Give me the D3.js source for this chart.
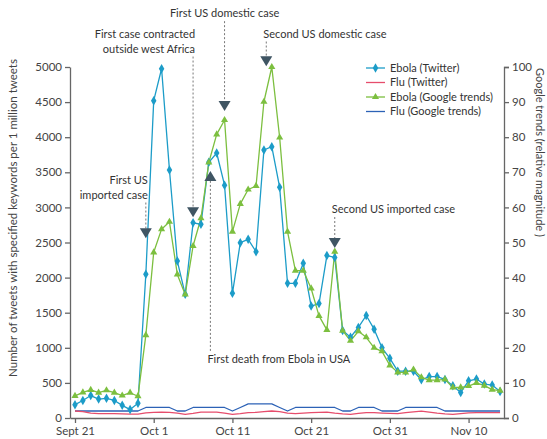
<!DOCTYPE html>
<html>
<head>
<meta charset="utf-8">
<script src="https://cdn.jsdelivr.net/npm/d3@7"></script>
<style>
  body { margin: 0; background: #fff; }
  svg { display: block; font-family: Lato, sans-serif; }
</style>
</head>
<body>
<svg id="chart" width="547" height="439"></svg>
<script>
// one value per day, day 0 = Sept 21 2014
const ebolaTwitter = [190, 250, 320, 270, 280, 250, 180, 120, 210, 2047,
  4520, 4975, 3533, 2236, 1762, 2780, 2760, 3642, 3775, 3316,
  1776, 2498, 2545, 2369, 3818, 3865, 3286, 1918, 1918, 2203,
  1595, 1630, 2314, 2287, 1245, 1150, 1290, 1460, 1265, 1000,
  850, 667, 667, 665, 545, 590, 590, 550, 460, 364,
  530, 555, 483, 469, 378]
const fluTwitter = [100, 90, 70, 62, 62, 62, 60, 55, 54, 72,
  80, 85, 80, 68, 52, 65, 85, 85, 85, 70,
  52, 62, 76, 80, 90, 100, 90, 70, 62, 70,
  76, 80, 85, 68, 58, 52, 65, 76, 76, 70,
  66, 62, 78, 88, 98, 85, 68, 58, 52, 62,
  72, 76, 76, 76, 76]
const ebolaGoogle = [6.3, 7.3, 8, 7.2, 7.9, 7.2, 6.4, 7.2, 6.2, 23.6,
  47.2, 53.8, 55.9, 40.9, 35.2, 49, 56.9, 72.8, 80.8, 84.9,
  53.1, 61, 65.1, 66.1, 90.1, 100, 79.9, 53.1, 42, 42,
  36.9, 29.1, 25.1, 47.4, 24.9, 22, 24.7, 23, 20, 19,
  15, 13, 13, 13.8, 11.6, 10.8, 10.8, 11, 8.7, 8.7,
  9.1, 10, 9.2, 8.1, 7.8]
const fluGoogle = [2, 2, 2, 2, 2, 2, 2, 2, 2, 3,
  3, 3, 3, 2, 2, 3, 3, 3, 3, 3,
  2, 3, 4, 4, 4, 4, 3, 2, 3, 3,
  3, 3, 3, 3, 2, 2, 3, 3, 3, 2,
  2, 2, 3, 3, 3, 3, 3, 2, 2, 2,
  2, 2, 2, 2, 2]

const tickDays = [0, 10, 20, 30, 40, 50]
const tickLabels = ['Sept 21', 'Oct 1', 'Oct 11', 'Oct 21', 'Oct 31', 'Nov 10']
const leftTicks = [0, 500, 1000, 1500, 2000, 2500, 3000, 3500, 4000, 4500, 5000]
const rightTicks = [0, 10, 20, 30, 40, 50, 60, 70, 80, 90, 100]

// events: day, arrow tip level (tweets), label lines, label level (tweets, baseline of first line)
const events = [
  { day: 9, tip: 2560, dir: 'down', lines: ['First US', 'imported case'], level: 3340, anchor: 'end' },
  { day: 15, tip: 2860, dir: 'down', lines: ['First case contracted', 'outside west Africa'], level: 5420, anchor: 'end' },
  { day: 19, tip: 4375, dir: 'down', lines: ['First US domestic case'], level: 5710, anchor: 'middle' },
  { day: 24.3, tip: 5010, dir: 'down', lines: ['Second US domestic case'], level: 5420, anchor: 'start' },
  { day: 33, tip: 2420, dir: 'down', lines: ['Second US imported case'], level: 2920, anchor: 'start' },
  { day: 17.2, tip: 3520, dir: 'up', lines: ['First death from Ebola in USA'], level: 780, anchor: 'start' }
]

const colors = {
  ebolaTwitter: '#1c9cc8',
  fluTwitter: '#e64d6c',
  ebolaGoogle: '#7cbf3f',
  fluGoogle: '#2c62b6'
}

const svg = d3.select('#chart')
const plotLeft = 70
const plotRight = 504
const plotTop = 67
const plotBottom = 418

const x = d3.scaleLinear().domain([-0.635, 54.5]).range([plotLeft, plotRight])
const yLeft = d3.scaleLinear().domain([0, 5000]).range([plotBottom, plotTop])
const yRight = d3.scaleLinear().domain([0, 100]).range([plotBottom, plotTop])

// axes
const axisColor = '#666'
const gLeft = svg.append('g').attr('transform', `translate(${plotLeft},0)`)
  .call(d3.axisLeft(yLeft).tickValues(leftTicks).tickFormat(d3.format('d')).tickSize(5).tickSizeOuter(0).tickPadding(3))
const gRight = svg.append('g').attr('transform', `translate(${plotRight},0)`)
  .call(d3.axisRight(yRight).tickValues(rightTicks).tickSize(5).tickSizeOuter(5).tickPadding(3))
const gX = svg.append('g').attr('transform', `translate(0,${plotBottom})`)
  .call(d3.axisBottom(x).tickValues(tickDays).tickFormat((d, i) => tickLabels[i]).tickSize(5).tickSizeOuter(0).tickPadding(4))

;[gLeft, gRight, gX].forEach(g => {
  g.selectAll('path, line').attr('stroke', axisColor).attr('stroke-width', 1.3)
  g.selectAll('text').attr('fill', '#444').style('font-size', '11.5px').style('font-family', 'Lato, sans-serif')
})

svg.append('text')
  .attr('transform', `translate(17,218) rotate(-90)`)
  .attr('text-anchor', 'middle')
  .attr('fill', '#444')
  .style('font-size', '11.5px')
  .text('Number of tweets with specified keywords per 1 million tweets')

svg.append('text')
  .attr('transform', `translate(536,68) rotate(90)`)
  .attr('text-anchor', 'start')
  .attr('fill', '#444')
  .style('font-size', '11px')
  .text('Google trends (relative magnitude )')

// series
function drawLine (values, scale, color) {
  const line = d3.line().x((d, i) => x(i)).y(d => scale(d))
  svg.append('path')
    .datum(values)
    .attr('fill', 'none')
    .attr('stroke', color)
    .attr('stroke-width', 1.3)
    .attr('stroke-linejoin', 'round')
    .attr('d', line)
}

function drawMarkers (values, scale, color, type, size) {
  svg.append('g').selectAll('path')
    .data(values)
    .enter()
    .append('path')
    .attr('transform', (d, i) => `translate(${x(i)},${scale(d)})`)
    .attr('d', d3.symbol().type(type).size(size))
    .attr('fill', color)
}

drawLine(fluGoogle, yRight, colors.fluGoogle)
drawLine(fluTwitter, yLeft, colors.fluTwitter)
drawLine(ebolaTwitter, yLeft, colors.ebolaTwitter)
drawLine(ebolaGoogle, yRight, colors.ebolaGoogle)
drawMarkers(ebolaTwitter, yLeft, colors.ebolaTwitter, d3.symbolDiamond, 26)
drawMarkers(ebolaGoogle, yRight, colors.ebolaGoogle, d3.symbolTriangle, 22)

// annotations
const arrowColor = '#3f5563'
events.forEach(ev => {
  const ax = x(ev.day)
  const tipY = yLeft(ev.tip)
  const labelY = yLeft(ev.level)
  const g = svg.append('g')
  let tx = ax
  if (ev.anchor === 'end') tx = ax + 2
  if (ev.anchor === 'start') tx = ax - 3
  ev.lines.forEach((t, i) => {
    g.append('text')
      .attr('x', tx)
      .attr('y', labelY + i * 15)
      .attr('text-anchor', ev.anchor)
      .attr('fill', '#333')
      .style('font-size', '11px')
      .text(t)
  })
  if (ev.dir === 'down') {
    const lineTop = labelY + (ev.lines.length - 1) * 15 + 4
    g.append('line')
      .attr('x1', ax).attr('x2', ax)
      .attr('y1', lineTop).attr('y2', tipY - 9)
      .attr('stroke', '#777').attr('stroke-width', 1).attr('stroke-dasharray', '2,2')
    g.append('path')
      .attr('d', `M${ax - 6},${tipY - 10}L${ax + 6},${tipY - 10}L${ax},${tipY}Z`)
      .attr('fill', arrowColor)
  } else {
    g.append('line')
      .attr('x1', ax).attr('x2', ax)
      .attr('y1', tipY + 10).attr('y2', labelY - 12)
      .attr('stroke', '#777').attr('stroke-width', 1).attr('stroke-dasharray', '2,2')
    g.append('path')
      .attr('d', `M${ax - 6},${tipY + 10}L${ax + 6},${tipY + 10}L${ax},${tipY}Z`)
      .attr('fill', arrowColor)
  }
})

// legend
const legendItems = [
  { name: 'Ebola (Twitter)', color: colors.ebolaTwitter, marker: d3.symbolDiamond, size: 26 },
  { name: 'Flu (Twitter)', color: colors.fluTwitter, marker: null },
  { name: 'Ebola (Google trends)', color: colors.ebolaGoogle, marker: d3.symbolTriangle, size: 22 },
  { name: 'Flu (Google trends)', color: colors.fluGoogle, marker: null }
]
const legend = svg.append('g').attr('transform', 'translate(366,68)')
legendItems.forEach((item, i) => {
  const row = legend.append('g').attr('transform', `translate(0,${i * 14.5})`)
  row.append('line').attr('x1', 0).attr('x2', 19).attr('y1', 0).attr('y2', 0)
    .attr('stroke', item.color).attr('stroke-width', 1.3)
  if (item.marker) {
    row.append('path').attr('transform', 'translate(9.5,0)')
      .attr('d', d3.symbol().type(item.marker).size(item.size))
      .attr('fill', item.color)
  }
  row.append('text').attr('x', 24).attr('y', 0).attr('dy', '0.35em')
    .attr('fill', '#333').style('font-size', '11px').text(item.name)
})
</script>
</body>
</html>
